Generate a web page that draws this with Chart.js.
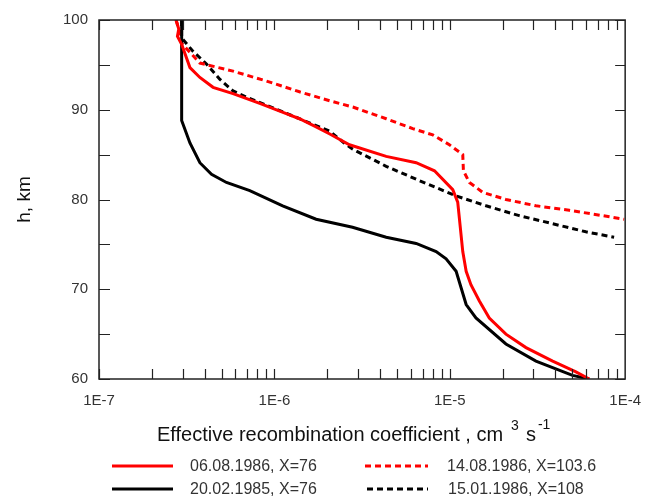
<!DOCTYPE html>
<html>
<head>
<meta charset="utf-8">
<script src="https://cdn.jsdelivr.net/npm/chart.js@4"></script>
<style>
  html, body { margin: 0; padding: 0; background: #fff; }
  #wrap { width: 654px; height: 502px; }
</style>
</head>
<body>
<div id="wrap"><canvas id="chart"></canvas></div>
<script>
// profiles: [coefficient, height km]
let redSolid = [
  [2.75e-7, 100], [2.85e-7, 99], [2.8e-7, 98.2], [2.96e-7, 97.3], [3.3e-7, 94.7],
  [3.76e-7, 93.6], [4.47e-7, 92.5], [5.81e-7, 91.8], [8.25e-7, 90.7], [1.12e-6, 89.7],
  [1.39e-6, 89.0], [1.73e-6, 88.1], [2.07e-6, 87.3], [2.68e-6, 86.1], [4.34e-6, 84.8],
  [6.43e-6, 84.1], [8.18e-6, 83.2], [1.04e-5, 81.1], [1.11e-5, 79.7], [1.186e-5, 74.2],
  [1.24e-5, 72.0], [1.32e-5, 70.5], [1.475e-5, 68.7], [1.68e-5, 66.8], [2.09e-5, 65.0],
  [2.72e-5, 63.5], [3.86e-5, 62.0], [5.24e-5, 60.8], [6.24e-5, 60]
];
let blackSolid = [
  [2.96e-7, 100], [2.96e-7, 88.8], [3.3e-7, 86.3], [3.76e-7, 84.1], [4.38e-7, 82.8],
  [5.33e-7, 81.9], [7.24e-7, 81.0], [1.115e-6, 79.3], [1.73e-6, 77.8], [2.79e-6, 76.9],
  [4.34e-6, 75.8], [6.43e-6, 75.1], [8.36e-6, 74.2], [9.53e-6, 73.4], [1.087e-5, 72.0],
  [1.24e-5, 68.3], [1.41e-5, 66.8], [2.09e-5, 63.9], [3.1e-5, 62.0], [5.01e-5, 60.4],
  [6.24e-5, 60]
];
let redDashed = [
  [2.75e-7, 100], [2.9e-7, 98.5], [2.96e-7, 97.4], [3.76e-7, 95.2], [5.81e-7, 94.3],
  [9.01e-7, 93.2], [1.39e-6, 92.0], [2.07e-6, 91.0], [2.8e-6, 90.3], [4.34e-6, 89.0],
  [6.15e-6, 87.9], [8.0e-6, 87.2], [9.95e-6, 86.1], [1.186e-5, 85.0], [1.196e-5, 83.2],
  [1.294e-5, 81.9], [1.54e-5, 80.8], [2.09e-5, 80.0], [3.1e-5, 79.3], [4.8e-5, 78.8],
  [7.43e-5, 78.2], [9.87e-5, 77.8]
];
let blackDashed = [
  [2.96e-7, 100], [2.96e-7, 98.0], [3.44e-7, 96.5], [4.1e-7, 95.1], [4.88e-7, 93.4],
  [5.81e-7, 92.1], [6.93e-7, 91.4], [9.01e-7, 90.5], [1.39e-6, 89.0], [2.07e-6, 87.6],
  [2.5e-6, 86.3], [2.8e-6, 85.6], [4.34e-6, 83.7], [6.72e-6, 82.1], [1.087e-5, 80.4],
  [1.61e-5, 79.3], [2.49e-5, 78.2], [3.86e-5, 77.3], [5.97e-5, 76.4], [8.65e-5, 75.8]
];

let seriesLabels = [
  "06.08.1986, X=76",
  "20.02.1985, X=76",
  "14.08.1986, X=103.6",
  "15.01.1986, X=108"
];

let xTickValues = [1e-7, 1e-6, 1e-5, 1e-4];
let yMin = 60, yMax = 100, yStep = 10;

function toPoints(arr) {
  return arr.map(p => ({ x: p[0], y: p[1] }));
}

function makeSet(label, data, color, dash) {
  return {
    label: label,
    data: toPoints(data),
    borderColor: color,
    backgroundColor: color,
    borderWidth: 3,
    borderDash: dash,
    showLine: true,
    pointRadius: 0,
    tension: 0
  };
}

// frame, inward ticks, axis title and the two-column legend
const decorations = {
  id: "decorations",
  afterDraw(chart) {
    const ctx = chart.ctx;
    const a = chart.chartArea;
    const xs = chart.scales.x, ys = chart.scales.y;
    ctx.save();
    ctx.strokeStyle = "#222";
    ctx.lineWidth = 1.5;
    ctx.strokeRect(a.left, a.top, a.right - a.left, a.bottom - a.top);

    ctx.lineWidth = 1.2;
    ctx.beginPath();
    for (let e = -7; e < -4; e++) {
      for (let m = 1; m <= 9; m++) {
        let px = Math.round(xs.getPixelForValue(m * Math.pow(10, e))) + 0.5;
        ctx.moveTo(px, a.bottom); ctx.lineTo(px, a.bottom - 10);
        ctx.moveTo(px, a.top); ctx.lineTo(px, a.top + 10);
      }
    }
    for (let h = yMin; h <= yMax; h += 5) {
      let py = Math.round(ys.getPixelForValue(h)) + 0.5;
      ctx.moveTo(a.left, py); ctx.lineTo(a.left + 11, py);
      ctx.moveTo(a.right, py); ctx.lineTo(a.right - 10, py);
    }
    ctx.stroke();

    // x axis title with superscripts
    ctx.fillStyle = "#111";
    ctx.textBaseline = "alphabetic";
    ctx.textAlign = "left";
    let x0 = 157, base = 441;
    ctx.font = "20px 'Liberation Sans'";
    let main = "Effective recombination coefficient , cm";
    ctx.fillText(main, x0, base);
    let cx = x0 + ctx.measureText(main).width + 8;
    ctx.font = "14px 'Liberation Sans'";
    ctx.fillText("3", cx, base - 11);
    cx += ctx.measureText("3").width + 7;
    ctx.font = "20px 'Liberation Sans'";
    ctx.fillText("s", cx, base);
    cx += ctx.measureText("s").width + 2;
    ctx.font = "14px 'Liberation Sans'";
    ctx.fillText("-1", cx, base - 12);

    // legend
    const slots = [
      { x1: 112, x2: 173, tx: 190, y: 466 },
      { x1: 112, x2: 173, tx: 190, y: 489 },
      { x1: 365, x2: 428, tx: 447, y: 466 },
      { x1: 367, x2: 428, tx: 448, y: 489 }
    ];
    ctx.font = "16px 'Liberation Sans'";
    ctx.textBaseline = "middle";
    chart.data.datasets.forEach((ds, i) => {
      const s = slots[i];
      ctx.strokeStyle = ds.borderColor;
      ctx.lineWidth = 3;
      ctx.setLineDash(ds.borderDash || []);
      ctx.beginPath();
      ctx.moveTo(s.x1, s.y); ctx.lineTo(s.x2, s.y);
      ctx.stroke();
      ctx.setLineDash([]);
      ctx.fillStyle = "#333";
      ctx.fillText(ds.label, s.tx, s.y + 1);
    });
    ctx.restore();
  }
};

new Chart(document.getElementById("chart"), {
  type: "scatter",
  data: {
    datasets: [
      makeSet(seriesLabels[0], redSolid, "#ff0000", []),
      makeSet(seriesLabels[1], blackSolid, "#000000", []),
      makeSet(seriesLabels[2], redDashed, "#ff0000", [6, 4]),
      makeSet(seriesLabels[3], blackDashed, "#000000", [6, 4])
    ]
  },
  options: {
    responsive: true,
    maintainAspectRatio: false,
    animation: false,
    layout: { autoPadding: false, padding: { left: 0, top: 15, right: 28, bottom: 0 } },
    plugins: {
      legend: { display: false },
      tooltip: { enabled: false }
    },
    scales: {
      x: {
        type: "logarithmic",
        min: 1e-7,
        max: 1e-4,
        grid: { display: false, drawTicks: false },
        border: { display: false },
        afterBuildTicks: s => { s.ticks = xTickValues.map(v => ({ value: v })); },
        afterFit: s => { s.height = 123; },
        ticks: {
          autoSkip: false,
          maxRotation: 0,
          padding: 13,
          color: "#333",
          font: { size: 15, family: "'Liberation Sans'" },
          callback: v => "1E" + Math.round(Math.log10(v))
        }
      },
      y: {
        min: yMin,
        max: yMax,
        grid: { display: false, drawTicks: false },
        border: { display: false },
        afterFit: s => { s.width = 99; },
        title: {
          display: true,
          text: "h, km",
          color: "#111",
          font: { size: 19, family: "'Liberation Sans'" },
          padding: { top: 13, bottom: 0 }
        },
        ticks: {
          stepSize: yStep,
          padding: 11,
          color: "#333",
          font: { size: 15, family: "'Liberation Sans'" }
        }
      }
    }
  },
  plugins: [decorations]
});
</script>
</body>
</html>
